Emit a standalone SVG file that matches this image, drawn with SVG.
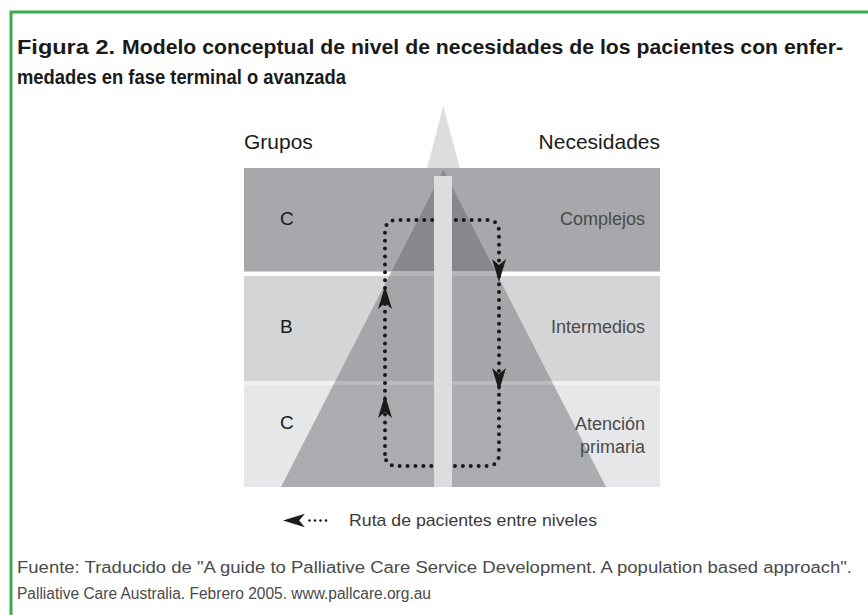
<svg xmlns="http://www.w3.org/2000/svg" width="868" height="615" viewBox="0 0 868 615">
<style>
.t{font-family:"Liberation Sans",Arial,Helvetica,sans-serif}
.title{font-weight:bold;font-size:21px;fill:#1a1a1a}
.hd{font-size:21px;fill:#1a1a1a}
.grp{font-size:19px;fill:#1a1a1a}
.need{font-size:18px;fill:#4a4a4a}
.foot{font-size:16px;fill:#4a4a4a}
.leg{font-size:17px;fill:#3a3a3a}
.dots{fill:none;stroke:#1a1a1a;stroke-width:4;stroke-linecap:round;stroke-dasharray:0 7.9}
.ah{fill:#1a1a1a}
</style>
<defs>
<clipPath id="tri"><polygon points="443.5,170 281,487 606,487"/></clipPath>
<path id="arrow" d="M0,0 L7,23 L0,17 L-7,23 Z"/>
</defs>
<rect width="868" height="615" fill="#ffffff"/>
<path d="M11,615 V12 H868" fill="none" stroke="#3aab4e" stroke-width="3"/>

<g id="title">
<text class="t title" x="17" y="54" style="font-weight:900" textLength="98" lengthAdjust="spacingAndGlyphs">Figura 2.</text>
<text class="t title" x="122" y="54" textLength="721" lengthAdjust="spacingAndGlyphs">Modelo conceptual de nivel de necesidades de los pacientes con enfer-</text>
<text class="t title" x="17" y="84" textLength="329" lengthAdjust="spacingAndGlyphs">medades en fase terminal o avanzada</text>
</g>

<g id="pyramid">
<polygon points="443.3,106 427,168.5 460,168.5" fill="#dcdddf"/>
<g id="bands">
<rect x="244" y="168" width="416" height="103.5" fill="#a7a8ab"/>
<rect x="244" y="276" width="416" height="105" fill="#d4d5d7"/>
<rect x="244" y="381" width="416" height="4" fill="#f1f1f2"/>
<rect x="244" y="385" width="416" height="102" fill="#e6e7e8"/>
</g>
<g clip-path="url(#tri)">
<rect x="244" y="168" width="416" height="103.5" fill="#87888b"/>
<rect x="244" y="271.5" width="416" height="4.5" fill="#b4b5b7"/>
<rect x="244" y="276" width="416" height="105" fill="#a5a6a9"/>
<rect x="244" y="381" width="416" height="4" fill="#b9babc"/>
<rect x="244" y="385" width="416" height="102" fill="#abacaf"/>
</g>
</g>

<g id="connectors">
<path class="dots" d="M385,454 V232 Q385,220 397,220 H487 Q499,220 499,232 V454 Q499,466 487,466 H397 Q385,466 385,454 Z"/>
<use href="#arrow" class="ah" transform="translate(499,282) rotate(180)"/>
<use href="#arrow" class="ah" transform="translate(499,391) rotate(180)"/>
<use href="#arrow" class="ah" transform="translate(385,286)"/>
<use href="#arrow" class="ah" transform="translate(385,395)"/>
</g>

<rect id="bar" x="434" y="176" width="18" height="311" fill="#dcdddf"/>

<g id="headers">
<text class="t hd" x="244" y="149">Grupos</text>
<text class="t hd" x="660" y="149" text-anchor="end">Necesidades</text>
</g>
<g id="level-complejos">
<text class="t grp" x="280" y="225">C</text>
<text class="t need" x="645" y="225" text-anchor="end">Complejos</text>
</g>
<g id="level-intermedios">
<text class="t grp" x="280" y="333">B</text>
<text class="t need" x="645" y="333" text-anchor="end">Intermedios</text>
</g>
<g id="level-primaria">
<text class="t grp" x="280" y="429">C</text>
<text class="t need" x="645" y="430" text-anchor="end">Atención</text>
<text class="t need" x="645" y="453" text-anchor="end">primaria</text>
</g>

<g id="legend">
<use href="#arrow" class="ah" transform="translate(283,520.5) rotate(-90) scale(0.95)"/>
<circle cx="309.5" cy="520.5" r="1.3" fill="#1a1a1a"/>
<circle cx="315" cy="520.5" r="1.3" fill="#1a1a1a"/>
<circle cx="320.5" cy="520.5" r="1.3" fill="#1a1a1a"/>
<circle cx="326" cy="520.5" r="1.3" fill="#1a1a1a"/>
<text class="t leg" x="349" y="526" textLength="248" lengthAdjust="spacingAndGlyphs">Ruta de pacientes entre niveles</text>
</g>

<g id="footer">
<text class="t foot" x="17" y="573" textLength="835" lengthAdjust="spacingAndGlyphs">Fuente: Traducido de "A guide to Palliative Care Service Development. A population based approach".</text>
<text class="t foot" x="17" y="599" textLength="414" lengthAdjust="spacingAndGlyphs">Palliative Care Australia. Febrero 2005. www.pallcare.org.au</text>
</g>
</svg>
